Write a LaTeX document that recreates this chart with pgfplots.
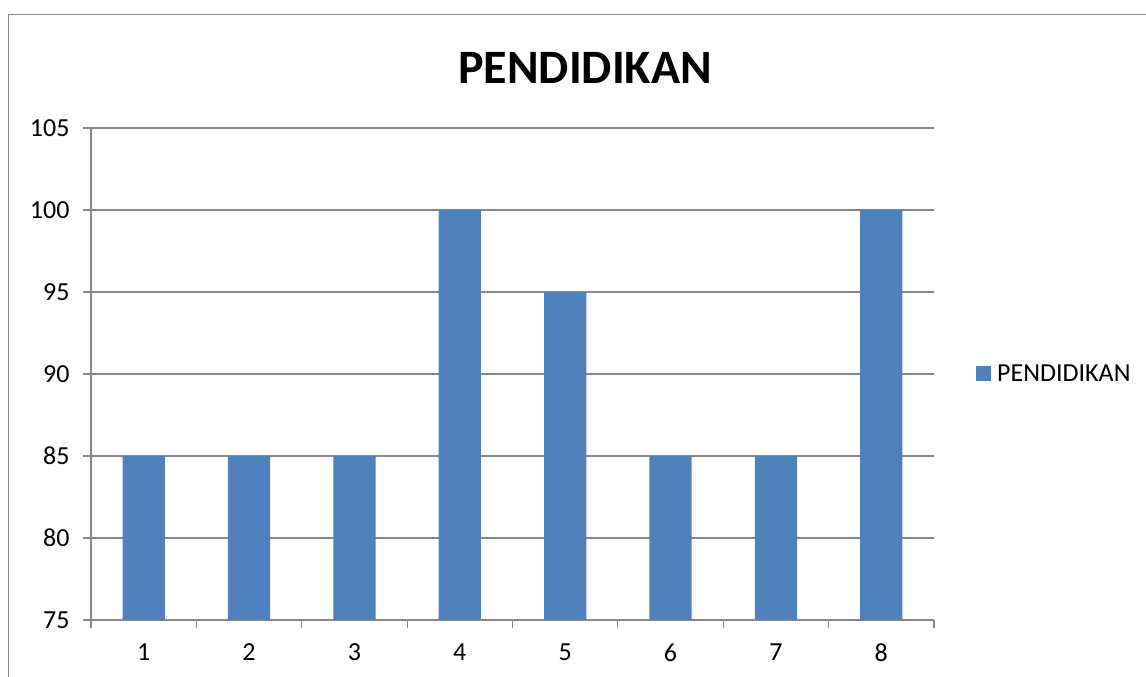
\documentclass[border=0pt]{standalone}
\usepackage{pgfplots}
\pgfplotsset{compat=1.18}
\usepackage{fontspec}
\setmainfont{Carlito}
\definecolor{barblue}{HTML}{4F81BD}
\definecolor{gridgray}{HTML}{878787}
\begin{document}
\begin{tikzpicture}[x=1pt,y=1pt]
\useasboundingbox (0,0) rectangle (1146,677);
\draw[gridgray,line width=1.2pt] (8.5,-5) -- (8.5,662.5) -- (1150,662.5);
\node[font=\fontsize{48}{54}\selectfont\bfseries] at (585,609) {PENDIDIKAN};
\begin{axis}[
  at={(91pt,57pt)}, anchor=south west,
  scale only axis, width=843pt, height=492pt,
  xmin=0.5, xmax=8.5, ymin=75, ymax=105,
  ytick={75,80,...,105},
  xtick={1,...,8},
  minor xtick={0.5,1.5,...,8.5},
  major x tick style={draw=none},
  tick align=outside,
  major tick length=8pt, minor tick length=8pt,
  every tick/.style={gridgray,line width=1.2pt},
  axis x line*=bottom, axis y line*=left,
  axis line style={gridgray,line width=1.2pt,-},
  ymajorgrids, grid style={gridgray,line width=1.2pt},
  /pgf/number format/assume math mode=true,
  tick label style={font=\fontsize{26}{30}\selectfont},
  yticklabel style={xshift=-10pt},
  xticklabel style={yshift=-12pt},
  ybar, bar width=0.4, bar shift=0pt,
  legend style={at={(1,0.5)}, anchor=west, xshift=42pt, draw=none, fill=none, inner sep=0pt,
    font=\fontsize{26}{30}\selectfont, nodes={inner xsep=6pt}},
  legend image code/.code={\fill[barblue] (0pt,-7.5pt) rectangle (15pt,7.5pt);},
]
\addplot[fill=barblue, draw=none] coordinates {(1,85) (2,85) (3,85) (4,100) (5,95) (6,85) (7,85) (8,100)};
\addlegendentry{PENDIDIKAN}
\end{axis}
\end{tikzpicture}
\end{document}
